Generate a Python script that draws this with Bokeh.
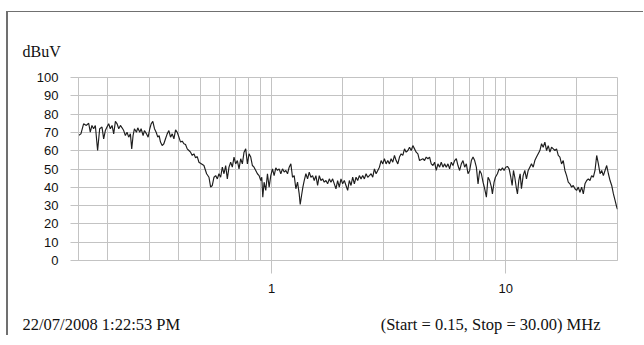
from bokeh.plotting import figure
from bokeh.layouts import column
from bokeh.models import FixedTicker, Label, BasicTickFormatter, Title
from bokeh.embed import file_html
from bokeh.resources import INLINE

# ---------------- data (MHz, dBuV) ----------------
freq_a = [0.150, 0.1536, 0.1577, 0.1620, 0.1658, 0.1684, 0.1712, 0.1740, 0.1770, 0.1810,
          0.1847, 0.1890, 0.1921, 0.1953, 0.1985, 0.2018, 0.2051, 0.2086, 0.2120, 0.2156,
          0.2192, 0.2228, 0.2265, 0.2302, 0.2339, 0.2378, 0.2417, 0.2457, 0.2498, 0.2531,
          0.2565, 0.2599, 0.2651, 0.2686, 0.2739, 0.2776, 0.2831, 0.2868, 0.2926, 0.2974,
          0.3023, 0.3064, 0.3114, 0.3166, 0.3218, 0.3271, 0.3314, 0.3358, 0.3414, 0.3471,
          0.3528, 0.3587, 0.3647, 0.3707, 0.3769, 0.3831, 0.3895, 0.3960, 0.4025, 0.4090,
          0.4159, 0.4227, 0.4296, 0.4368, 0.4440, 0.4513, 0.4589, 0.4664, 0.4741, 0.4820,
          0.4900]
level_a = [68.3, 69.2, 74.7, 73.8, 75.0, 70.1, 73.8, 72.0, 73.8, 60.1,
           72.0, 72.9, 66.5, 71.0, 72.9, 74.7, 72.0, 73.8, 69.2, 76.0,
           74.7, 72.0, 73.8, 72.5, 71.0, 68.3, 70.1, 67.4, 69.2, 61.0,
           68.3, 72.0, 70.1, 72.5, 70.1, 72.0, 68.3, 71.0, 69.2, 67.4,
           72.0, 74.7, 76.0, 72.0, 70.1, 67.4, 68.3, 64.7, 62.8, 63.8,
           66.5, 69.2, 71.0, 67.4, 69.2, 66.5, 71.4, 70.1, 67.4, 64.7,
           65.2, 63.8, 63.4, 61.0, 60.1, 59.2, 57.4, 58.3, 56.1, 56.8,
           53.7]

freq_b = [0.5147, 0.5284, 0.5408, 0.5498, 0.5589, 0.5682, 0.5776, 0.5871, 0.5968, 0.6067,
          0.6167, 0.6269, 0.6373, 0.6478, 0.6585, 0.6695, 0.6805, 0.6918, 0.7033, 0.7149,
          0.7267, 0.7388, 0.7510, 0.7634, 0.7762, 0.7890, 0.8020, 0.8154, 0.8289, 0.8424,
          0.8565, 0.8707, 0.8851, 0.9000, 0.9089, 0.9179, 0.9298, 0.9454, 0.9610, 0.9770,
          0.9931, 1.0097, 1.0263, 1.0433, 1.0607, 1.0782, 1.0959, 1.1143, 1.1327, 1.1514,
          1.1707, 1.1900, 1.2096, 1.2298, 1.2501, 1.2706, 1.2918, 1.3131, 1.3262, 1.3437,
          1.3614, 1.3794, 1.4022, 1.4256, 1.4491, 1.4730, 1.4976, 1.5223, 1.5474, 1.5733,
          1.5993, 1.6255, 1.6527, 1.6800, 1.7077, 1.7363, 1.7649, 1.7940, 1.8239, 1.8540,
          1.8846, 1.9157, 1.9473, 1.9799, 2.0125, 2.0458, 2.0800, 2.1143, 2.1492, 2.1852,
          2.2213, 2.2579, 2.2957, 2.3335, 2.3720, 2.4117, 2.4514, 2.4919, 2.5336, 2.5754,
          2.6178, 2.6616, 2.7055, 2.7501, 2.7961, 2.8422, 2.8891, 2.9374, 2.9854, 3.0346,
          3.0854, 3.1363, 3.1880, 3.2413, 3.2948, 3.3497, 3.4050, 3.4611, 3.5190, 3.5770,
          3.6360, 3.6968, 3.7578, 3.8206, 3.8836, 3.9476, 4.0136, 4.0798, 4.1471, 4.2164,
          4.2855]
level_b = [51.9, 47.4, 45.5, 40.1, 41.0, 45.5, 46.4, 44.6, 47.4, 45.5,
           51.0, 47.4, 51.9, 44.6, 51.0, 53.7, 51.0, 56.5, 52.8, 54.6,
           50.1, 55.6, 52.8, 59.2, 61.0, 52.8, 58.3, 56.5, 51.9, 51.0,
           49.2, 47.4, 46.4, 43.7, 45.5, 34.6, 42.8, 38.3, 47.4, 40.1,
           46.4, 50.1, 46.4, 50.6, 49.2, 50.1, 47.4, 50.1, 48.3, 49.2,
           47.4, 51.0, 52.8, 45.5, 46.4, 39.2, 42.8, 36.4, 30.6, 35.5,
           40.1, 43.7, 47.4, 44.6, 48.3, 45.5, 46.4, 43.7, 46.4, 41.0,
           46.4, 43.7, 44.6, 42.8, 43.7, 41.9, 44.6, 42.8, 44.6, 41.9,
           39.2, 43.7, 40.1, 44.6, 41.9, 43.7, 41.0, 38.3, 43.7, 41.0,
           45.5, 41.9, 45.5, 43.7, 46.4, 44.6, 46.4, 44.6, 47.4, 45.5,
           46.4, 47.4, 45.5, 50.1, 47.4, 49.2, 51.0, 54.6, 52.8, 55.6,
           52.8, 54.6, 52.8, 55.6, 53.7, 57.4, 54.6, 52.8, 56.5, 58.3,
           57.4, 61.0, 59.2, 60.1, 61.9, 60.1, 62.8, 61.0, 59.2, 58.3,
           54.6]

freq_c = [4.429, 4.502, 4.576, 4.653, 4.730, 4.808, 4.889, 4.969, 5.051, 5.135,
          5.220, 5.306, 5.395, 5.483, 5.574, 5.667, 5.760, 5.856, 5.953, 6.050,
          6.152, 6.253, 6.356, 6.463, 6.569, 6.678, 6.789, 6.901, 7.015, 7.132,
          7.250, 7.369, 7.492, 7.616, 7.742, 7.870, 8.000, 8.132, 8.268, 8.404,
          8.543, 8.686, 8.772, 8.917, 9.035, 9.215, 9.368, 9.522, 9.681, 9.840,
          10.00, 10.17, 10.34, 10.51, 10.65, 10.79, 10.93, 11.11, 11.22, 11.37,
          11.52, 11.67, 11.87, 12.06, 12.26, 12.47, 12.67, 12.88, 13.10, 13.31,
          13.53, 13.76, 13.99, 14.22, 14.45, 14.69, 14.94, 15.19, 15.44, 15.69,
          15.96, 16.22, 16.48, 16.76, 17.03, 17.31, 17.60, 17.89, 18.19, 18.49,
          18.79, 19.11, 19.42, 19.74, 20.07, 20.40, 20.74, 21.09, 21.44, 21.79,
          22.16, 22.52, 22.89, 23.27, 23.66, 24.05, 24.45, 24.86, 25.27, 25.68,
          26.11, 26.54, 26.98, 27.43, 27.88, 28.34, 28.82, 29.29, 29.78, 30.00]
level_c = [55.6, 54.6, 56.5, 55.6, 56.5, 52.8, 51.9, 53.7, 49.2, 52.8,
           51.0, 53.7, 51.0, 52.8, 51.0, 52.8, 50.1, 53.7, 51.9, 54.6,
           55.6, 51.9, 49.2, 52.8, 54.6, 51.0, 52.8, 47.4, 49.2, 54.6,
           56.5, 54.6, 51.0, 41.9, 49.2, 47.4, 42.8, 39.2, 34.6, 45.5,
           43.7, 40.1, 36.4, 42.8, 45.5, 47.4, 50.1, 49.2, 50.6, 49.2,
           51.0, 51.4, 50.1, 45.5, 41.0, 49.2, 45.5, 39.2, 36.4, 43.7,
           47.4, 39.2, 46.4, 49.2, 44.6, 49.2, 51.0, 52.8, 51.0, 54.6,
           56.5, 58.3, 60.1, 63.8, 61.9, 64.7, 60.1, 62.8, 59.2, 61.9,
           61.0, 60.1, 61.0, 57.4, 56.5, 52.8, 54.6, 49.2, 46.4, 42.8,
           41.9, 40.1, 41.0, 39.2, 38.3, 40.1, 37.3, 40.1, 36.4, 41.9,
           43.7, 44.6, 43.7, 46.4, 45.5, 49.2, 57.4, 52.8, 47.4, 49.2,
           46.4, 49.2, 51.9, 47.4, 43.7, 41.0, 36.4, 32.8, 29.1, 28.0]

y_ticks = [0, 10, 20, 30, 40, 50, 60, 70, 80, 90, 100]
x_major_ticks = [1, 10]
x_minor_ticks = [0.2, 0.3, 0.4, 0.5, 0.6, 0.7, 0.8, 0.9,
                 2, 3, 4, 5, 6, 7, 8, 9, 20, 30]
f_start, f_stop = 0.15, 30.0
unit_text = "dBuV"
date_text = "22/07/2008 1:22:53 PM"
span_text = "(Start = 0.15, Stop = 30.00) MHz"

freq = freq_a + freq_b + freq_c
level = level_a + level_b + level_c

# ---------------- layout constants (page px) ----------------
OX, OY = 8, 12                 # content origin inside the bordered box
CW = 635                       # content width
MAIN_H, FOOT_H = 293, 30
FRAME_L, FRAME_R, FRAME_T, FRAME_B = 78, 617, 77, 260
GRID = "#c3c3c3"
SERIF = "Liberation Serif"
INK = "#111111"

# ---------------- main chart ----------------
p = figure(width=CW, height=MAIN_H, x_axis_type="log",
           x_range=(f_start, f_stop), y_range=(0, 100),
           output_backend="svg", toolbar_location=None,
           min_border_left=FRAME_L - OX, min_border_right=OX + CW - FRAME_R,
           min_border_top=FRAME_T - OY, min_border_bottom=OY + MAIN_H - FRAME_B)
p.background_fill_color = "white"
p.border_fill_color = "white"
p.outline_line_color = GRID
p.outline_line_width = 1

p.yaxis.ticker = FixedTicker(ticks=y_ticks)
p.yaxis.major_tick_out = 8
p.yaxis.major_tick_in = 0
p.yaxis.minor_tick_line_color = None
p.yaxis.axis_line_color = GRID
p.yaxis.major_tick_line_color = GRID
p.yaxis.major_label_text_font = "Liberation Sans"
p.yaxis.major_label_text_font_size = "13px"
p.yaxis.major_label_text_color = INK
p.yaxis.major_label_standoff = 12

p.xaxis.ticker = FixedTicker(ticks=x_major_ticks, minor_ticks=x_minor_ticks)
p.xaxis.formatter = BasicTickFormatter()
p.xaxis.major_tick_out = 13
p.xaxis.major_tick_in = 0
p.xaxis.minor_tick_out = 0
p.xaxis.minor_tick_in = 0
p.xaxis.axis_line_color = GRID
p.xaxis.major_tick_line_color = GRID
p.xaxis.major_label_text_font = "Liberation Sans"
p.xaxis.major_label_text_font_size = "13px"
p.xaxis.major_label_text_color = INK
p.xaxis.major_label_standoff = 10

p.xgrid.grid_line_color = GRID
p.xgrid.minor_grid_line_color = GRID
p.ygrid.grid_line_color = GRID

p.line(freq, level, line_color="#1e1e1e", line_width=1.15)

p.add_layout(Title(text=unit_text, align="left", offset=22 - FRAME_L, standoff=35,
                   text_font=SERIF, text_font_size="16px", text_font_style="normal",
                   text_color=INK), "above")

# ---------------- footer with the two captions ----------------
foot = figure(width=CW, height=FOOT_H, x_range=(0, CW), y_range=(0, FOOT_H),
              output_backend="svg", toolbar_location=None,
              x_axis_location=None, y_axis_location=None,
              min_border=0, outline_line_color=None)
for fig in (p, foot):
    if "frame_align" in fig.properties():
        fig.frame_align = False
foot.grid.visible = False
foot.background_fill_color = "white"
foot.border_fill_color = "white"
cap_y = FOOT_H - (324 - (OY + MAIN_H))
foot.add_layout(Label(x=22 - OX, y=cap_y, text=date_text, text_font=SERIF,
                      text_font_size="16.5px", text_baseline="middle", text_color=INK))
foot.add_layout(Label(x=600 - OX, y=cap_y, text=span_text, text_font=SERIF,
                      text_font_size="16.5px", text_baseline="middle",
                      text_align="right", text_color=INK))

layout = column(p, foot, spacing=0,
                styles={"position": "absolute", "left": "0px", "top": "0px",
                        "margin-left": "6px", "margin-top": "11px",
                        "border-left": "2px solid #707070",
                        "border-top": "1px solid #707070",
                        "box-sizing": "content-box",
                        "overflow": "hidden"})

open("out.html", "w").write(file_html(layout, INLINE))
